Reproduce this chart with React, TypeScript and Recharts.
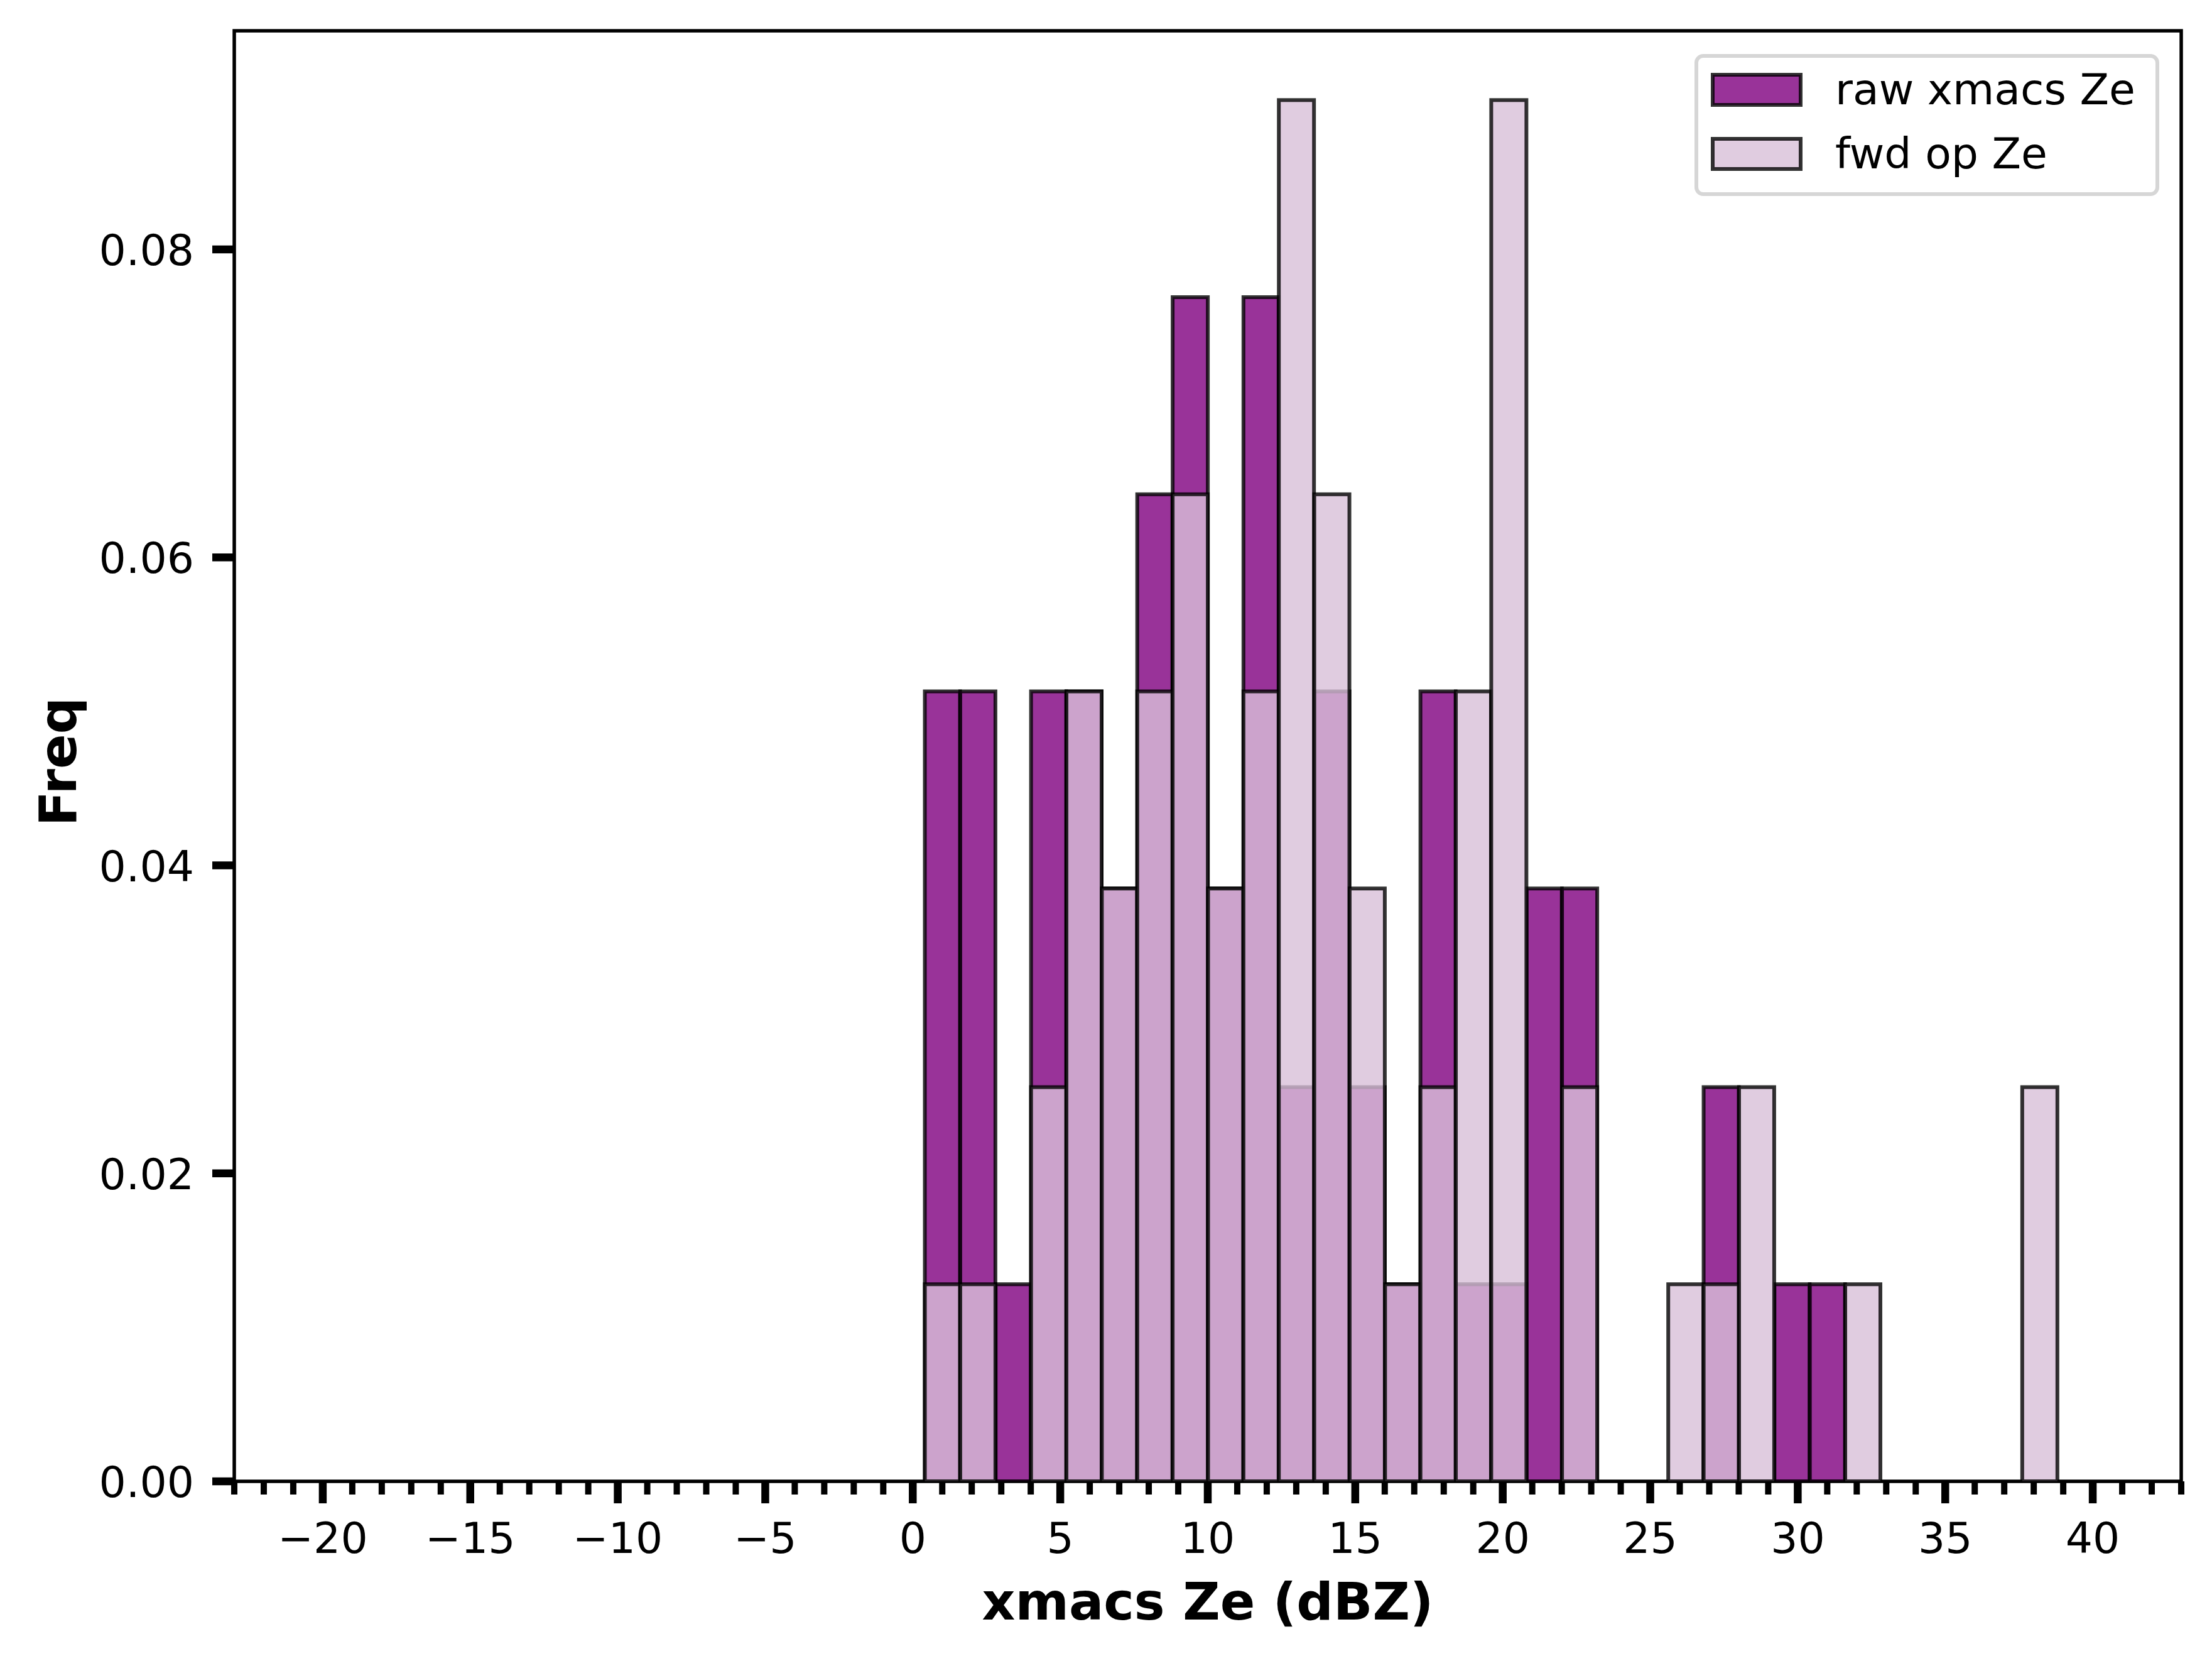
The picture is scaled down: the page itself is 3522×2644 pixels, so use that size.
import { Bar, ComposedChart, Label, Legend, ReferenceArea, XAxis, YAxis } from 'recharts';

// histogram bins (dBZ), bin width 1.2
const binCenters = [
    1.01, 2.21, 3.41, 4.61, 5.81, 7.01, 8.21, 9.41, 10.61, 11.81, 13.01, 14.21, 15.41, 16.61, 17.81, 19.01,
    20.21, 21.41, 22.61, 23.81, 25.01, 26.21, 27.41, 28.61, 29.81, 31.01, 32.21, 33.41, 34.61, 35.81, 37.01, 38.21,
];

const rawFreq = [
    0.0513, 0.0513, 0.0128, 0.0513, 0.0513, 0.0385, 0.0641, 0.0769, 0.0385, 0.0769, 0.0256, 0.0513, 0.0256, 0.0128, 0.0513, 0.0128,
    0.0128, 0.0385, 0.0385, 0, 0, 0, 0.0256, 0, 0.0128, 0.0128, 0, 0, 0, 0, 0, 0,
];

const fwdFreq = [
    0.0128, 0.0128, 0, 0.0256, 0.0513, 0.0385, 0.0513, 0.0641, 0.0385, 0.0513, 0.0897, 0.0641, 0.0385, 0.0128, 0.0256, 0.0513,
    0.0897, 0, 0.0256, 0, 0, 0.0128, 0.0128, 0.0256, 0, 0, 0.0128, 0, 0, 0, 0, 0.0256,
];

const xMajorTicks = [-20, -15, -10, -5, 0, 5, 10, 15, 20, 25, 30, 35, 40];
const xTickLabels = ['\u221220', '\u221215', '\u221210', '\u22125', '0', '5', '10', '15', '20', '25', '30', '35', '40'];
const xMinorTicks = [
    -23, -22, -21, -20, -19, -18, -17, -16, -15, -14, -13, -12, -11, -10, -9, -8, -7, -6, -5, -4, -3, -2, -1,
    0, 1, 2, 3, 4, 5, 6, 7, 8, 9, 10, 11, 12, 13, 14, 15, 16, 17, 18, 19, 20, 21, 22, 23, 24, 25, 26, 27, 28,
    29, 30, 31, 32, 33, 34, 35, 36, 37, 38, 39, 40, 41, 42, 43,
];
const yTicks = [0, 0.02, 0.04, 0.06, 0.08];
const yTickLabels = ['0.00', '0.02', '0.04', '0.06', '0.08'];

const legendOrder = ['raw', 'fwd'];

const X_DOMAIN: [number, number] = [-23, 43];
const Y_DOMAIN: [number, number] = [0, 0.0942];

const data = binCenters.map((center, i) => ({ center, raw: rawFreq[i], fwd: fwdFreq[i] }));

const FONT = 'DejaVu Sans';
const EDGE_W = 6;
const swatchFill: Record<string, string> = { raw: '#800080', fwd: '#d8bfd8' };

function HistBar({ x, y, width, height, fill }: any) {
    if (!height || !width) return null;
    return (
        <rect
            x={x}
            y={y}
            width={width}
            height={height}
            fill={fill}
            fillOpacity={0.8}
            stroke="#000"
            strokeOpacity={0.8}
            strokeWidth={EDGE_W}
        />
    );
}

function Frame({ x, y, width, height }: any) {
    return <rect x={x} y={y} width={width} height={height} fill="none" stroke="#000" strokeWidth={5.5} />;
}

function XTick({ x, y, payload }: any) {
    const idx = xMajorTicks.indexOf(payload.value);
    const major = idx >= 0;
    return (
        <g>
            <line x1={x} x2={x} y1={y} y2={y + (major ? 35 : 21)} stroke="#000" strokeWidth={major ? 12.5 : 10} />
            {major && (
                <text x={x} y={y + 114} textAnchor="middle" fontSize={68} fontFamily={FONT} fill="#000">
                    {xTickLabels[idx]}
                </text>
            )}
        </g>
    );
}

function YTick({ x, y, payload }: any) {
    const idx = yTicks.indexOf(payload.value);
    return (
        <g>
            <line x1={x - 35} x2={x} y1={y} y2={y} stroke="#000" strokeWidth={12.5} />
            <text x={x - 64} y={y + 25} textAnchor="end" fontSize={68} fontFamily={FONT} fill="#000">
                {yTickLabels[idx]}
            </text>
        </g>
    );
}

function LegendBox({ payload }: any) {
    const items = [...(payload || [])].sort(
        (a: any, b: any) => legendOrder.indexOf(a.dataKey) - legendOrder.indexOf(b.dataKey),
    );
    return (
        <div
            style={{
                boxSizing: 'border-box',
                width: 740,
                height: 226,
                border: '6px solid #d6d6d6',
                borderRadius: 14,
                background: 'rgba(255,255,255,0.8)',
                paddingLeft: 20,
                fontFamily: FONT,
                fontSize: 68,
                lineHeight: 1,
                color: '#000',
            }}
        >
            {items.map((entry: any) => (
                <div key={entry.value} style={{ display: 'flex', alignItems: 'center', height: 102 }}>
                    <svg width={146} height={54} style={{ display: 'block' }}>
                        <rect
                            x={3}
                            y={3}
                            width={140}
                            height={48}
                            fill={swatchFill[entry.dataKey] || entry.color}
                            fillOpacity={0.8}
                            stroke="#000"
                            strokeOpacity={0.8}
                            strokeWidth={EDGE_W}
                        />
                    </svg>
                    <span style={{ marginLeft: 52 }}>{entry.value}</span>
                </div>
            ))}
        </div>
    );
}

export default function App() {
    return (
        <div style={{ position: 'absolute', left: 0, top: 0, background: '#fff' }}>
            <ComposedChart
                width={3522}
                height={2644}
                data={data}
                margin={{ top: 49, right: 49, left: 0, bottom: 0 }}
                barCategoryGap={0}
                barGap={0}
                style={{ fontFamily: FONT }}
            >
                <XAxis
                    xAxisId="raw"
                    dataKey="center"
                    type="number"
                    domain={X_DOMAIN}
                    allowDataOverflow
                    ticks={xMinorTicks}
                    interval={0}
                    tick={<XTick />}
                    tickSize={0}
                    tickMargin={0}
                    tickLine={false}
                    axisLine={false}
                    height={286}
                >
                    <Label
                        content={({ viewBox }: any) => (
                            <text
                                x={viewBox.x + viewBox.width / 2}
                                y={viewBox.y + 220}
                                textAnchor="middle"
                                fontSize={82}
                                fontWeight="bold"
                                fontFamily={FONT}
                                fill="#000"
                            >
                                xmacs Ze (dBZ)
                            </text>
                        )}
                    />
                </XAxis>
                <XAxis
                    xAxisId="fwd"
                    dataKey="center"
                    type="number"
                    domain={X_DOMAIN}
                    allowDataOverflow
                    orientation="top"
                    height={0}
                    hide
                />
                <YAxis
                    type="number"
                    domain={Y_DOMAIN}
                    allowDataOverflow
                    ticks={yTicks}
                    interval={0}
                    tick={<YTick />}
                    tickSize={0}
                    tickMargin={0}
                    tickLine={false}
                    axisLine={false}
                    width={373}
                >
                    <Label
                        content={({ viewBox }: any) => {
                            const cx = 121;
                            const cy = viewBox.y + viewBox.height / 2 + 9;
                            return (
                                <text
                                    x={cx}
                                    y={cy}
                                    transform={`rotate(-90 ${cx} ${cy})`}
                                    textAnchor="middle"
                                    fontSize={82}
                                    fontWeight="bold"
                                    fontFamily={FONT}
                                    fill="#000"
                                >
                                    Freq
                                </text>
                            );
                        }}
                    />
                </YAxis>
                <Bar
                    xAxisId="raw"
                    dataKey="raw"
                    name="raw xmacs Ze"
                    fill="#800080"
                    shape={<HistBar />}
                    isAnimationActive={false}
                />
                <Bar
                    xAxisId="fwd"
                    dataKey="fwd"
                    name="fwd op Ze"
                    fill="#d8bfd8"
                    shape={<HistBar />}
                    isAnimationActive={false}
                />
                <ReferenceArea
                    xAxisId="raw"
                    x1={X_DOMAIN[0]}
                    x2={X_DOMAIN[1]}
                    y1={Y_DOMAIN[0]}
                    y2={Y_DOMAIN[1]}
                    ifOverflow="visible"
                    shape={<Frame />}
                />
                <Legend
                    layout="vertical"
                    align="center"
                    verticalAlign="middle"
                    wrapperStyle={{ left: 2698, top: 86, width: 740, height: 226 }}
                    content={<LegendBox />}
                />
            </ComposedChart>
        </div>
    );
}
